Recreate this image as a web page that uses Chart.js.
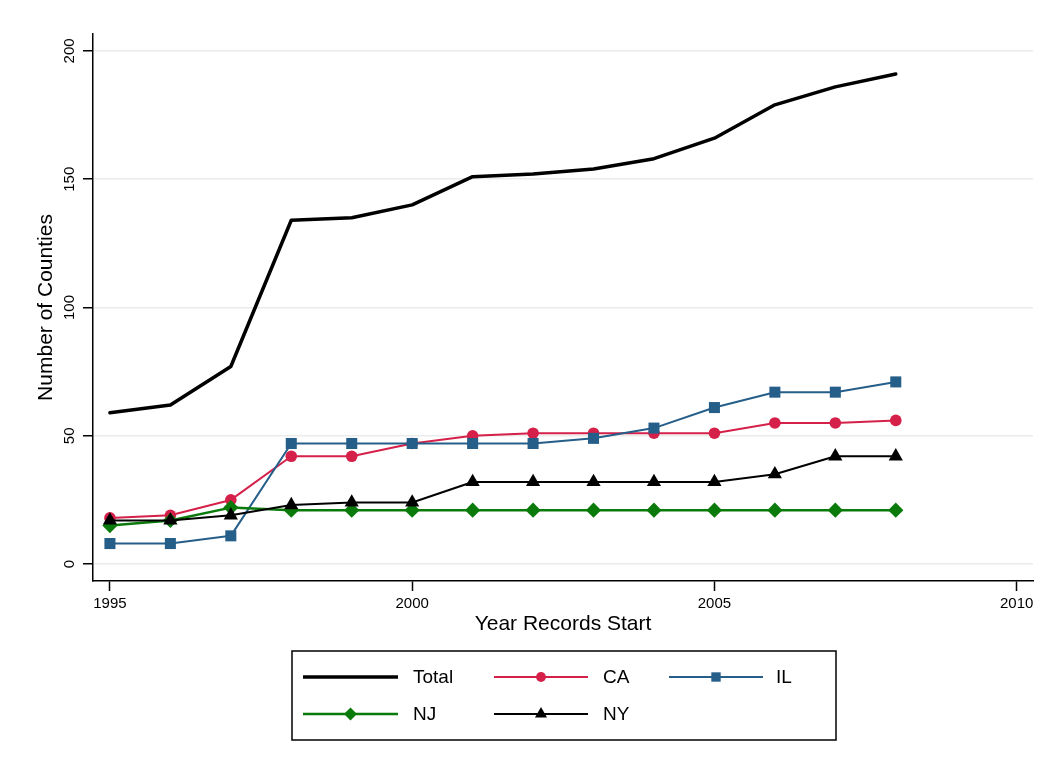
<!DOCTYPE html>
<html>
<head>
<meta charset="utf-8">
<title>Number of Counties by Year Records Start</title>
<script src="https://cdn.jsdelivr.net/npm/chart.js@4/dist/chart.umd.min.js"></script>
<style>
  html, body { margin: 0; padding: 0; background: #ffffff; }
  #wrap { position: relative; width: 1047px; height: 769px; }
  canvas { display: block; }
</style>
</head>
<body>
<div id="wrap"><canvas id="chart" width="1047" height="769"></canvas></div>
<script>
// Year each county's records start, and cumulative counts per series
const years = [1995, 1996, 1997, 1998, 1999, 2000, 2001, 2002, 2003, 2004, 2005, 2006, 2007, 2008];
const totalCounts = [59, 62, 77, 134, 135, 140, 151, 152, 154, 158, 166, 179, 186, 191];
const caCounts    = [18, 19, 25, 42, 42, 47, 50, 51, 51, 51, 51, 55, 55, 56];
const ilCounts    = [8, 8, 11, 47, 47, 47, 47, 47, 49, 53, 61, 67, 67, 71];
const njCounts    = [15, 17, 22, 21, 21, 21, 21, 21, 21, 21, 21, 21, 21, 21];
const nyCounts    = [17, 17, 19, 23, 24, 24, 32, 32, 32, 32, 32, 35, 42, 42];

const xTicks = [1995, 2000, 2005, 2010];
const yTicks = [0, 50, 100, 150, 200];
const seriesNames = ['Total', 'CA', 'IL', 'NJ', 'NY'];

const FONT = '"Liberation Sans", Arial, Helvetica, sans-serif';
Chart.defaults.font.family = FONT;
Chart.defaults.color = '#000000';

const toPoints = vals => years.map((yr, i) => ({ x: yr, y: vals[i] }));

const styles = [
  { color: '#000000', width: 3.5, point: false,       radius: 0 },
  { color: '#d5204a', width: 2,   point: 'circle',    radius: 5.8 },
  { color: '#255e89', width: 2,   point: 'rect',      radius: 7.8 },
  { color: '#0a7a0a', width: 2.5, point: 'rectRot',   radius: 7.6 },
  { color: '#000000', width: 2,   point: 'triangle',  radius: 8.2 }
];
const seriesValues = [totalCounts, caCounts, ilCounts, njCounts, nyCounts];

const datasets = seriesNames.map((name, i) => ({
  label: name,
  data: toPoints(seriesValues[i]),
  borderColor: styles[i].color,
  backgroundColor: styles[i].color,
  borderWidth: styles[i].width,
  pointStyle: styles[i].point,
  pointRadius: styles[i].radius,
  pointHoverRadius: styles[i].radius,
  pointBackgroundColor: styles[i].color,
  pointBorderColor: styles[i].color,
  pointBorderWidth: 0,
  borderJoinStyle: 'round',
  borderCapStyle: 'round',
  tension: 0,
  order: seriesNames.length - i
}));

// Boxed legend, three columns by two rows, below the plot
const boxLegend = {
  id: 'boxLegend',
  afterDraw(chart) {
    const ctx = chart.ctx;
    const box = { x: 292, y: 651, w: 544, h: 89 };
    const cols = [
      { lx0: 303, lx1: 398, tx: 413 },
      { lx0: 494, lx1: 588, tx: 603 },
      { lx0: 669, lx1: 763, tx: 776 }
    ];
    const rows = [677, 714];
    ctx.save();
    ctx.strokeStyle = '#000000';
    ctx.lineWidth = 1.5;
    ctx.strokeRect(box.x, box.y, box.w, box.h);
    chart.data.datasets.forEach((ds, i) => {
      const c = cols[i % 3];
      const y = rows[Math.floor(i / 3)];
      ctx.beginPath();
      ctx.strokeStyle = ds.borderColor;
      ctx.lineWidth = ds.borderWidth;
      ctx.lineCap = 'butt';
      ctx.moveTo(c.lx0, y);
      ctx.lineTo(c.lx1, y);
      ctx.stroke();
      if (ds.pointStyle) {
        ctx.fillStyle = ds.pointBackgroundColor;
        ctx.strokeStyle = ds.pointBorderColor;
        Chart.helpers.drawPoint(ctx, {
          pointStyle: ds.pointStyle,
          radius: ds.pointRadius * 0.85,
          borderWidth: 0,
          rotation: 0
        }, (c.lx0 + c.lx1) / 2, y);
      }
      ctx.fillStyle = '#000000';
      ctx.font = '19px ' + FONT;
      ctx.textBaseline = 'middle';
      ctx.textAlign = 'left';
      ctx.fillText(ds.label, c.tx, y + 1);
    });
    ctx.restore();
  }
};

new Chart(document.getElementById('chart'), {
  type: 'line',
  data: { datasets },
  options: {
    responsive: false,
    animation: false,
    devicePixelRatio: 1,
    layout: { padding: { left: 0, right: 14, top: 34, bottom: 0 } },
    plugins: {
      legend: { display: false },
      tooltip: { enabled: false }
    },
    scales: {
      x: {
        type: 'linear',
        min: 1994.72,
        max: 2010.27,
        afterBuildTicks: s => { s.ticks = xTicks.map(v => ({ value: v })); },
        afterFit: s => { s.height = 188; },
        grid: {
          display: true,
          drawOnChartArea: false,
          drawTicks: true,
          tickLength: 10,
          tickColor: '#000000',
          tickWidth: 1.5
        },
        border: { display: true, color: '#000000', width: 1.5 },
        ticks: {
          font: { size: 15 },
          color: '#000000',
          padding: 4,
          maxRotation: 0,
          minRotation: 0,
          callback: v => String(v)
        },
        title: {
          display: true,
          text: 'Year Records Start',
          font: { size: 21 },
          color: '#000000',
          padding: { top: 0, bottom: 132 }
        }
      },
      y: {
        type: 'linear',
        min: -6.6,
        max: 206.6,
        afterBuildTicks: s => { s.ticks = yTicks.map(v => ({ value: v })); },
        afterFit: s => { s.width = 93; },
        grid: {
          display: true,
          drawOnChartArea: true,
          drawTicks: true,
          tickLength: 10,
          color: '#ebebeb',
          lineWidth: 1.5,
          tickColor: '#000000',
          tickWidth: 1.5
        },
        border: { display: true, color: '#000000', width: 1.5 },
        ticks: {
          font: { size: 15 },
          color: '#000000',
          padding: 1,
          minRotation: 90,
          maxRotation: 90,
          crossAlign: 'center',
          callback: v => String(v)
        },
        title: {
          display: true,
          text: 'Number of Counties',
          font: { size: 21 },
          color: '#000000',
          padding: { top: 34, bottom: 0 }
        }
      }
    }
  },
  plugins: [boxLegend]
});
</script>
</body>
</html>
